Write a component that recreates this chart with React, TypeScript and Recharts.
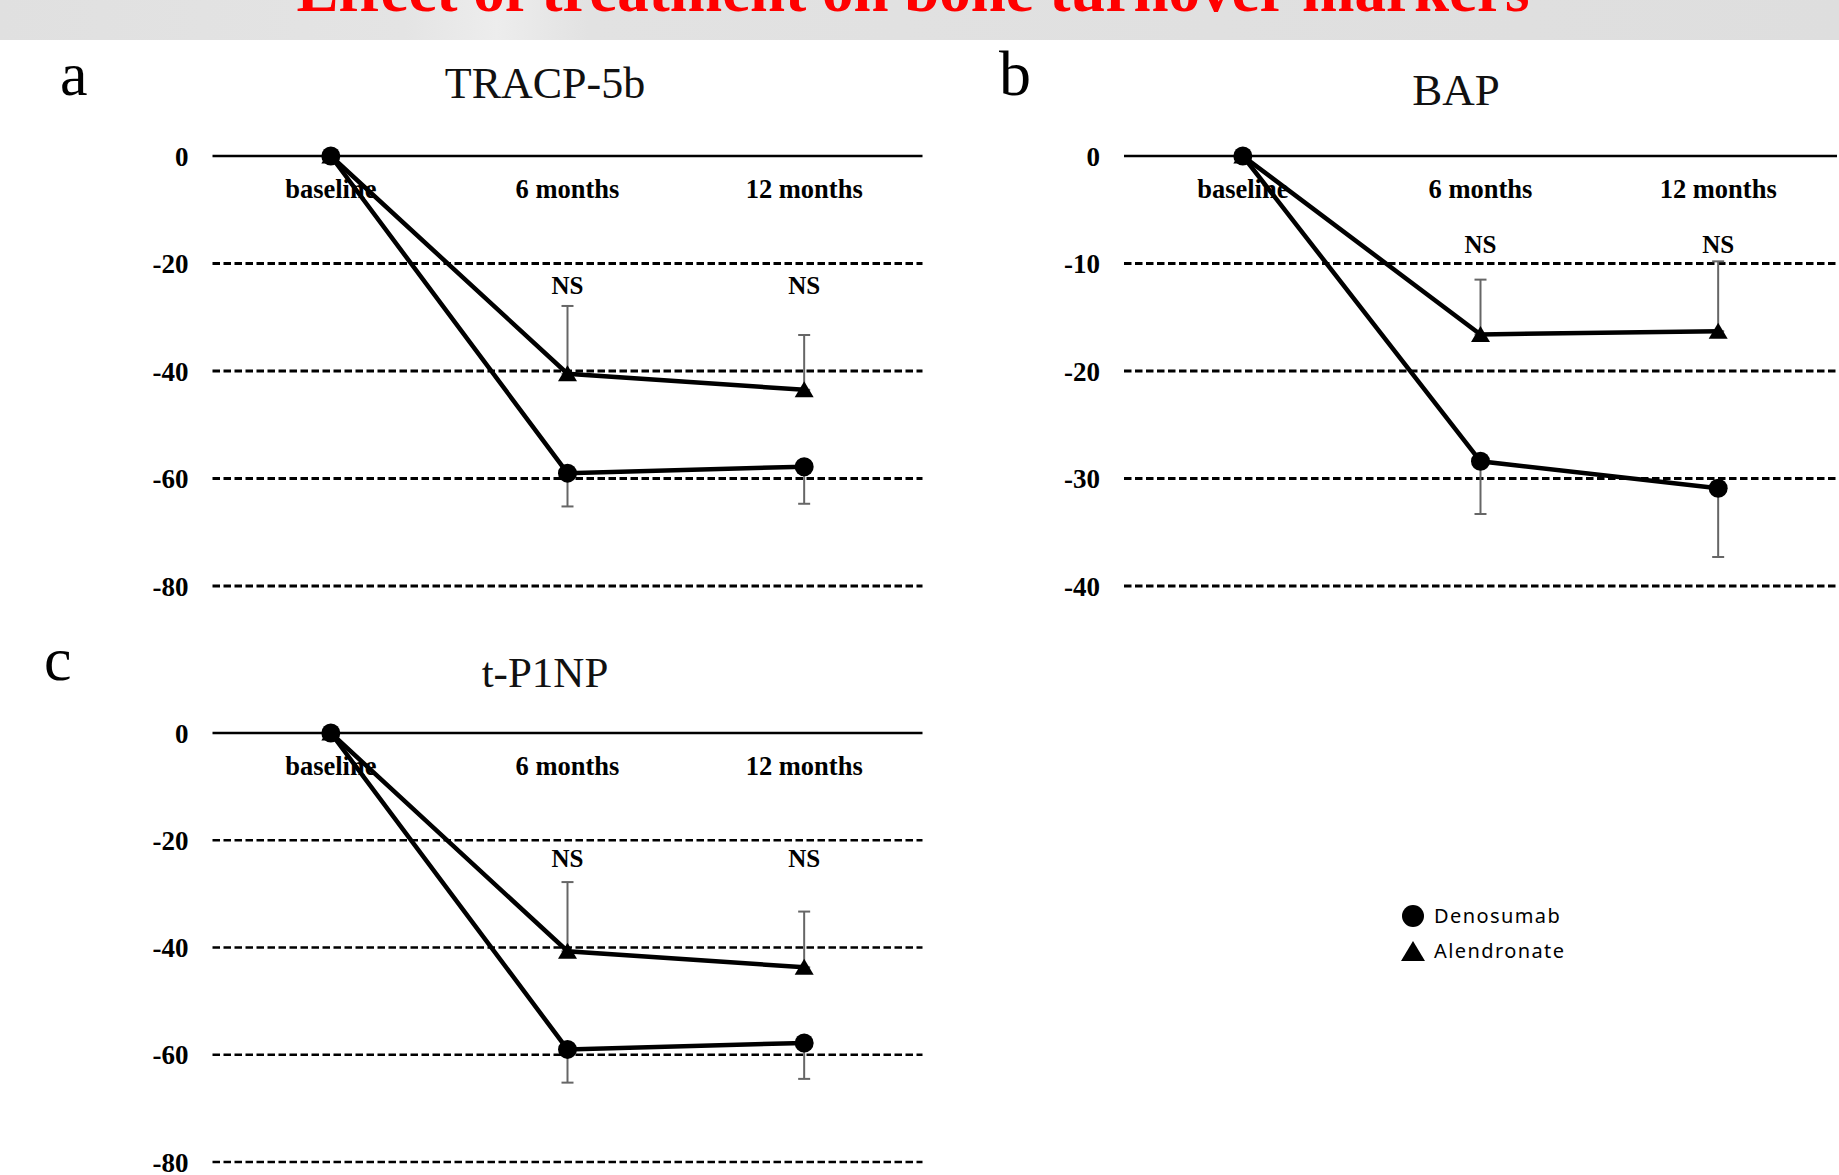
import React from 'react';
import { LineChart, Line, XAxis, YAxis, ReferenceLine, ErrorBar, LabelList, Legend } from 'recharts';

// ---------- DATA ----------
const categories = ['baseline', '6 months', '12 months'];
const seriesNames = ['Denosumab', 'Alendronate'];
const nsLabels = ['', 'NS', 'NS'];

const ticksWide = [0, -20, -40, -60, -80];
const ticksBap = [0, -10, -20, -30, -40];

// TRACP-5b (% change)
const tracpDenosumab = [0, -59.0, -57.8];
const tracpDenosumabSd = [0, 6.2, 6.9];
const tracpAlendronate = [0, -40.5, -43.5];
const tracpAlendronateSd = [0, 12.6, 10.2];
const tracpNsAt = -24;

// BAP (% change)
const bapDenosumab = [0, -28.4, -30.9];
const bapDenosumabSd = [0, 4.9, 6.4];
const bapAlendronate = [0, -16.6, -16.3];
const bapAlendronateSd = [0, 5.1, 6.5];
const bapNsAt = -8.2;

// t-P1NP (% change)
const p1npDenosumab = [0, -59.0, -57.8];
const p1npDenosumabSd = [0, 6.2, 6.7];
const p1npAlendronate = [0, -40.7, -43.7];
const p1npAlendronateSd = [0, 12.9, 10.4];
const p1npNsAt = -23.4;

const titleText = 'Effect of treatment on bone turnover markers';

// ---------- helpers ----------
function buildRows(den: number[], denSd: number[], alen: number[], alenSd: number[], nsAt: number) {
  return categories.map((c, i) => ({
    cat: c,
    den: den[i],
    alen: alen[i],
    denErr: [denSd[i], 0],
    alenErr: [0, alenSd[i]],
    nsY: nsLabels[i] ? nsAt : null,
    ns: nsLabels[i],
  }));
}

const SERIF = "'Liberation Serif', 'Times New Roman', serif";

const CircleDot = (p: any) => {
  if (p.cx == null || p.cy == null) return <g key={`c-${p.index}`} />;
  return <circle key={`c-${p.index}`} cx={p.cx} cy={p.cy} r={9.5} fill="#000" />;
};

const TriDot = (p: any) => {
  if (p.cx == null || p.cy == null) return <g key={`t-${p.index}`} />;
  const { cx, cy } = p;
  return (
    <path
      key={`t-${p.index}`}
      d={`M${cx},${cy - 8.5}L${cx + 9.5},${cy + 7.5}L${cx - 9.5},${cy + 7.5}Z`}
      fill="#000"
    />
  );
};

const NsLabel = (p: any) => {
  if (!p.value) return null;
  const x = p.x ?? p.viewBox?.x;
  const y = p.y ?? p.viewBox?.y;
  if (x == null || y == null) return null;
  return (
    <text x={x} y={y} dy={8.5} textAnchor="middle" fontFamily={SERIF} fontWeight="bold" fontSize={25} fill="#000">
      {p.value}
    </text>
  );
};

type PanelProps = {
  left: number;
  top: number;
  width: number;
  height: number;
  plotLeft: number;
  plotRight: number;
  zeroY: number;
  bottomY: number;
  ticks: number[];
  rows: any[];
  dash: number;
  legend?: boolean;
};

const YW = 60;
const XH = 1;

function Panel(props: PanelProps) {
  const { left, top, width, height, plotLeft, plotRight, zeroY, bottomY, ticks, rows, dash, legend } = props;
  const mTop = zeroY - top - XH;
  const mBottom = top + height - bottomY;
  const mLeft = plotLeft - left - YW;
  const mRight = left + width - plotRight;
  const pad = (plotRight - plotLeft) / 6;
  const localZero = zeroY - top;
  const minV = ticks[ticks.length - 1];

  const CatTick = (p: any) => (
    <text
      key={`x-${p.index}`}
      x={p.x}
      y={localZero + 42}
      textAnchor="middle"
      fontFamily={SERIF}
      fontWeight="bold"
      fontSize={26.5}
      fill="#000"
    >
      {p.payload?.value}
    </text>
  );

  return (
    <div style={{ position: 'absolute', left, top, width, height }}>
      <LineChart
        width={width}
        height={height}
        data={rows}
        margin={{ top: mTop, right: mRight, bottom: mBottom, left: mLeft }}
      >
        <XAxis
          dataKey="cat"
          orientation="top"
          height={XH}
          axisLine={false}
          tickLine={false}
          interval={0}
          padding={{ left: pad, right: pad }}
          tick={CatTick}
        />
        <YAxis
          type="number"
          domain={[minV, 0]}
          ticks={ticks}
          interval={0}
          axisLine={false}
          tickLine={false}
          tickSize={0}
          tickMargin={24}
          width={YW}
          tick={{ fontFamily: SERIF, fontWeight: 'bold', fontSize: 27, fill: '#000' }}
        />
        {ticks.map((t) => (
          <ReferenceLine
            key={`g-${t}`}
            y={t}
            ifOverflow="visible"
            stroke="#000"
            strokeWidth={t === 0 ? 2.4 : dash}
            strokeDasharray={t === 0 ? undefined : '7.5 3.5'}
          />
        ))}
        <Line
          dataKey="nsY"
          stroke="none"
          dot={false}
          activeDot={false}
          legendType="none"
          isAnimationActive={false}
        >
          <LabelList dataKey="ns" content={NsLabel} />
        </Line>
        <Line
          dataKey="alen"
          name={seriesNames[1]}
          stroke="#000"
          strokeWidth={4.5}
          dot={TriDot}
          activeDot={false}
          legendType="triangle"
          isAnimationActive={false}
        >
          <ErrorBar dataKey="alenErr" direction="y" width={6} stroke="#666" strokeWidth={2} isAnimationActive={false} />
        </Line>
        <Line
          dataKey="den"
          name={seriesNames[0]}
          stroke="#000"
          strokeWidth={4.5}
          dot={CircleDot}
          activeDot={false}
          legendType="circle"
          isAnimationActive={false}
        >
          <ErrorBar dataKey="denErr" direction="y" width={6} stroke="#666" strokeWidth={2} isAnimationActive={false} />
        </Line>
        {legend && (
          <Legend
            layout="vertical"
            align="center"
            verticalAlign="middle"
            wrapperStyle={{ position: 'absolute', left: 1400 - left, top: 898 - top, width: 220 }}
            content={() => (
              <div style={{ fontFamily: "'Noto Sans', sans-serif", fontSize: 20, letterSpacing: 1.4, color: '#000' }}>
                {seriesNames.map((n, i) => (
                  <div key={n} style={{ display: 'flex', alignItems: 'center', height: 35 }}>
                    <svg width={26} height={26} style={{ marginRight: 8 }}>
                      {i === 0 ? (
                        <circle cx={13} cy={13} r={11} fill="#000" />
                      ) : (
                        <path d="M13,3L25,23L1,23Z" fill="#000" />
                      )}
                    </svg>
                    <span>{n}</span>
                  </div>
                ))}
              </div>
            )}
          />
        )}
      </LineChart>
    </div>
  );
}

export default function App() {
  const rowsA = buildRows(tracpDenosumab, tracpDenosumabSd, tracpAlendronate, tracpAlendronateSd, tracpNsAt);
  const rowsB = buildRows(bapDenosumab, bapDenosumabSd, bapAlendronate, bapAlendronateSd, bapNsAt);
  const rowsC = buildRows(p1npDenosumab, p1npDenosumabSd, p1npAlendronate, p1npAlendronateSd, p1npNsAt);

  return (
    <div style={{ position: 'absolute', left: 0, top: 0, width: 1839, height: 1175, background: '#fff', overflow: 'hidden' }}>
      <svg width={1839} height={1175} style={{ position: 'absolute', left: 0, top: 0 }}>
        <defs>
          <linearGradient id="band" x1="0" y1="0" x2="1" y2="0">
            <stop offset="0" stopColor="#e0e0e0" />
            <stop offset="0.22" stopColor="#e4e4e4" />
            <stop offset="0.27" stopColor="#ededed" />
            <stop offset="0.32" stopColor="#e2e2e2" />
            <stop offset="1" stopColor="#dedede" />
          </linearGradient>
        </defs>
        <rect x={0} y={0} width={1839} height={40} fill="url(#band)" />
        <text x={913} y={11} textAnchor="middle" fontFamily={SERIF} fontWeight="bold" fontSize={63} fill="#f00">
          {titleText}
        </text>
        <text x={60} y={95} fontFamily={SERIF} fontSize={62} fill="#000">a</text>
        <text x={999} y={95} fontFamily={SERIF} fontSize={64} fill="#000">b</text>
        <text x={44} y={680} fontFamily={SERIF} fontSize={62} fill="#000">c</text>
        <text x={545} y={98} textAnchor="middle" fontFamily={SERIF} fontSize={44} fill="#111">TRACP-5b</text>
        <text x={1456} y={105} textAnchor="middle" fontFamily={SERIF} fontSize={45} fill="#111">BAP</text>
        <text x={545} y={687} textAnchor="middle" fontFamily={SERIF} fontSize={43} fill="#111">t-P1NP</text>
      </svg>
      <Panel
        left={0}
        top={100}
        width={960}
        height={530}
        plotLeft={212.5}
        plotRight={922.5}
        zeroY={156}
        bottomY={586}
        ticks={ticksWide}
        rows={rowsA}
        dash={3.2}
      />
      <Panel
        left={960}
        top={100}
        width={879}
        height={530}
        plotLeft={1124}
        plotRight={1837}
        zeroY={156}
        bottomY={586}
        ticks={ticksBap}
        rows={rowsB}
        dash={3.2}
      />
      <Panel
        left={0}
        top={640}
        width={960}
        height={535}
        plotLeft={212.5}
        plotRight={922.5}
        zeroY={733}
        bottomY={1162}
        ticks={ticksWide}
        rows={rowsC}
        dash={2.4}
        legend
      />
    </div>
  );
}
